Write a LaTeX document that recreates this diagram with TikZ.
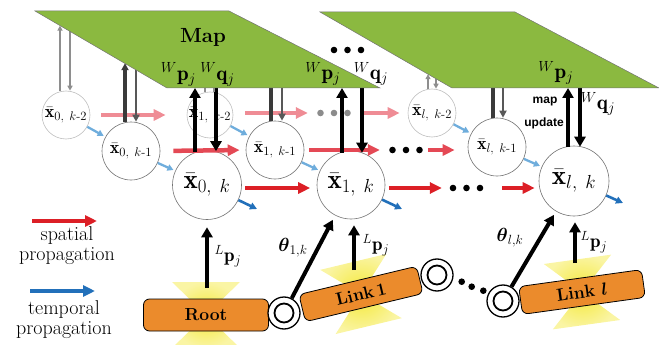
\RequirePackage{fix-cm}
\documentclass[tikz,border=0pt]{standalone}
\usepackage{amsmath}
\usepackage{fontspec}
\newfontfamily\labelsans{Liberation Sans}
\usetikzlibrary{arrows.meta}

\definecolor{mapgreen}{HTML}{8BB940}
\definecolor{redK}{HTML}{DC1F26}
\definecolor{redKa}{HTML}{E44955}
\definecolor{redKb}{HTML}{EF8C95}
\definecolor{blueD}{HTML}{2270BA}
\definecolor{blueL}{HTML}{6FADDC}
\definecolor{linkorange}{HTML}{EB8B2C}
\definecolor{glowyellow}{HTML}{F4E835}
\definecolor{darkline}{HTML}{3A3A3A}
\definecolor{lightline}{HTML}{8E8E8E}

\tikzset{
  state/.style={circle, draw=black!55, line width=0.6pt, fill=white, inner sep=0pt},
  stbig/.style={state, minimum size=#1, font=\fontsize{27}{30}\selectfont},
  stsmall/.style={state, minimum size=#1, font=\fontsize{18}{20}\selectfont},
  faint/.style={draw=black!25},
  spat/.style={draw=#1, line width=4.5pt, -{Triangle[length=12pt,width=11pt]}},
  tempL/.style={draw=blueL, line width=2.3pt, -{Triangle[length=6pt,width=6.5pt]}, shorten >=2pt},
  tempD/.style={draw=blueD, line width=2.6pt, -{Triangle[length=7pt,width=7pt]}},
  thinup/.style={draw=lightline, line width=1.4pt, -{Triangle[length=5pt,width=5pt]}},
  thinline/.style={draw=lightline, line width=1.4pt},
  midline/.style={draw=darkline, line width=3.4pt},
  midup/.style={midline, -{Triangle[length=7pt,width=7pt]}},
  middown/.style={draw=darkline!85, line width=2.4pt, -{Triangle[length=7pt,width=7pt]}},
  blkarrow/.style={draw=black, line width=4pt, -{Triangle[length=10pt,width=11pt]}},
  mapplane/.style={fill=mapgreen, draw=black!55, line width=0.5pt},
  plab/.style={inner sep=0pt, font=\fontsize{21}{24}\selectfont},
  llab/.style={inner sep=0pt, font=\fontsize{19}{22}\selectfont},
  linkbox/.style={draw=black, line width=0.8pt, fill=linkorange, rounded corners=6pt,
    inner sep=0pt, font=\fontsize{17.5}{20}\selectfont\bfseries},
  joint/.style={circle, draw=black, line width=1.3pt, fill=white, minimum size=32pt, inner sep=0pt,
    path picture={\draw[line width=1.8pt] (path picture bounding box.center) circle (9.5pt);}},
  ellip/.style={minimum width=34pt, minimum height=8pt, inner sep=0pt,
    path picture={\foreach \d in {-13.5,0,13.5}
      \fill[#1] ([xshift=\d pt]path picture bounding box.center) circle (3.3pt);}},
  ellip/.default=black,
  glow/.style={inner color=glowyellow, outer color=glowyellow!45},
  legendtxt/.style={align=center, inner sep=0pt, font=\fontsize{20}{19.5}\selectfont},
  updtxt/.style={inner sep=0pt, font={\fontsize{12}{14}\labelsans\bfseries}},
}

\begin{document}
\begin{tikzpicture}[x=1pt,y=-1pt]
\useasboundingbox (0,0) rectangle (659,345);

% corners of the two map planes
\coordinate (P1a) at (35,11);  \coordinate (P1b) at (229,11);
\coordinate (P1c) at (380,88); \coordinate (P1d) at (167,88);
\coordinate (P2a) at (320,12); \coordinate (P2b) at (515,12);
\coordinate (P2c) at (659,88); \coordinate (P2d) at (452,88);

% ---------- kinematic chain ----------
\begin{scope}[shift={(206,315)}]
  \shade[glow] (0,0) -- (-34,-33) -- (34,-33) -- cycle (0,0) -- (34,33) -- (-34,33) -- cycle;
\end{scope}
\begin{scope}[shift={(361,294)}, rotate=13.5]
  \shade[glow] (0,0) -- (-34,-33) -- (34,-33) -- cycle (0,0) -- (34,33) -- (-34,33) -- cycle;
\end{scope}
\begin{scope}[shift={(582,292)}, rotate=7.9]
  \shade[glow] (0,0) -- (-34,-33) -- (34,-33) -- cycle (0,0) -- (34,33) -- (-34,33) -- cycle;
\end{scope}

\node[linkbox, minimum width=125pt, minimum height=32pt] (root) at (206,315) {Root};
\node[linkbox, minimum width=121pt, minimum height=28pt, rotate=13.5] (link1) at (361,294) {Link\,1};
\node[linkbox, minimum width=124pt, minimum height=28pt, rotate=7.9] (linkl) at (582,292) {Link $\boldsymbol{l}$};

\node[joint] (j1) at (284,313) {};
\node[joint] (j2) at (437,275) {};
\node[joint] (j3) at (503,301) {};
\foreach \p in {(461.7,281.7),(471.7,286.7),(483.3,290.7)} \fill \p circle (3.3pt);

% ---------- state estimates ----------
\node[stsmall=48pt, faint] (a02) at (66,115)  {$\bar{\mathbf{x}}_{0,\ k\text{-}2}$};
\node[stsmall=58pt]        (a01) at (131,151) {$\bar{\mathbf{x}}_{0,\ k\text{-}1}$};
\node[stbig=69pt]          (a00) at (207,185) {$\bar{\mathbf{x}}_{0,\ k}$};
\node[stsmall=46pt, faint] (b02) at (210,115) {$\bar{\mathbf{x}}_{1,\ k\text{-}2}$};
\node[stsmall=58pt]        (b01) at (275,150) {$\bar{\mathbf{x}}_{1,\ k\text{-}1}$};
\node[stbig=68pt]          (b00) at (351,185) {$\bar{\mathbf{x}}_{1,\ k}$};
\node[stsmall=48pt, faint] (c02) at (432,113) {$\bar{\mathbf{x}}_{l,\ k\text{-}2}$};
\node[stsmall=58pt]        (c01) at (497,147) {$\bar{\mathbf{x}}_{l,\ k\text{-}1}$};
\node[stbig=70pt]          (c00) at (574,181) {$\bar{\mathbf{x}}_{l,\ k}$};

% ellipses between the link columns
\node[ellip=black!45] (dk2) at (334,113) {};
\node[ellip] (dk1) at (406,150) {};
\node[ellip] (dk0) at (466.5,188) {};

% spatial propagation
\draw[spat=redKb, shorten <=11pt, shorten >=21pt] (a02.east) -- (b02.west);
\draw[spat=redKb, shorten <=12pt, shorten >=9pt] ([yshift=2pt]b02.east) -- (dk2.west);
\draw[spat=redKb, shorten <=12pt, shorten >=8pt] (dk2.east) -- (c02.west);
\draw[spat=redKa, shorten <=13pt, shorten >=6pt] (a01.east) -- (b01.west);
\draw[spat=redKa, shorten <=5pt, shorten >=9pt] (b01.east) -- (dk1.west);
\draw[spat=redKa, shorten <=5pt, shorten >=13pt] (dk1.east) -- ([yshift=-3pt]c01.west);
\draw[spat=redK, shorten <=3.5pt, shorten >=6.5pt] ([yshift=-3pt]a00.east) -- ([yshift=-3pt]b00.west);
\draw[spat=redK, shorten <=3.5pt, shorten >=7.5pt] ([yshift=-3pt]b00.east) -- (dk0.west);
\draw[spat=redK, shorten <=18.5pt, shorten >=4pt] (dk0.east) -- ([yshift=-7pt]c00.west);

% temporal propagation
\draw[tempL] (a02) -- (a01);
\draw[tempL] (a01) -- (a00);
\draw[tempL] (b02) -- (b01);
\draw[tempL] (b01) -- (b00);
\draw[tempL] (c02) -- (c01);
\draw[tempL] (c01) -- (c00);
\coordinate (ta0) at (257,209);
\coordinate (tb0) at (402,209);
\coordinate (tc0) at (623,203);
\draw[tempD] (a00) -- (ta0);
\draw[tempD] (b00) -- (tb0);
\draw[tempD] (c00) -- (tc0);

% ---------- exchanges with the map ----------
\coordinate (m02u) at (60,25.6);  \coordinate (m02d) at (70,31.4);
\coordinate (m01u) at (125,63.2); \coordinate (m01d) at (136,69.6);
\coordinate (m00u) at (195,88);   \coordinate (m00d) at (216,88);
\coordinate (n02u) at (205,88);   \coordinate (n02d) at (214,88);
\coordinate (n01u) at (271,88);   \coordinate (n01d) at (282,88);
\coordinate (n00u) at (342,88);   \coordinate (n00d) at (362,88);
\coordinate (o02u) at (428,74.2); \coordinate (o02d) at (436,78.8);
\coordinate (o01u) at (493,88);   \coordinate (o01d) at (503,88);
\coordinate (o00u) at (568,88);   \coordinate (o00d) at (580,88);

\draw[thinup] ([xshift=-6pt]a02.north) -- (m02u);
\draw[thinup] (m02d) -- ([xshift=4pt]a02.north);
\draw[midup] ([xshift=-6pt]a01.north) -- (m01u);
\draw[middown] (m01d) -- ([xshift=5pt]a01.north);
\draw[blkarrow, shorten <=-2pt] ([xshift=-12pt]a00.north) -- (m00u);
\draw[blkarrow, shorten >=-1pt] (m00d) -- ([xshift=9pt]a00.north);

\draw[thinline] ([xshift=-5pt]b02.north) -- (n02u);
\draw[thinline] (n02d) -- ([xshift=4pt]b02.north);
\draw[midline] ([xshift=-4pt]b01.north) -- (n01u);
\draw[middown] (n01d) -- ([xshift=7pt]b01.north);
\draw[blkarrow, shorten <=-2pt] ([xshift=-9pt]b00.north) -- (n00u);
\draw[blkarrow, shorten >=-2pt] (n00d) -- ([xshift=11pt]b00.north);

\draw[thinup] ([xshift=-4pt]c02.north) -- (o02u);
\draw[thinup] (o02d) -- ([xshift=4pt]c02.north);
\draw[midline] ([xshift=-4pt]c01.north) -- (o01u);
\draw[middown] (o01d) -- ([xshift=6pt]c01.north);
\draw[blkarrow, shorten <=-1pt] ([xshift=-6pt]c00.north) -- (o00u);
\draw[blkarrow, shorten >=-1pt] (o00d) -- ([xshift=6pt]c00.north);

% map planes
\draw[mapplane] (P1a) -- (P1b) -- (P1c) -- (P1d) -- cycle;
\draw[mapplane] (P2a) -- (P2b) -- (P2c) -- (P2d) -- cycle;

\node[font=\fontsize{20.5}{24}\selectfont\bfseries] (maptitle) at (203,37) {Map};
\node[plab] (wp0) at (178.5,74.5) {${}^{W}\mathbf{p}_{j}$};
\node[plab] (wq0) at (217.5,74.5) {${}^{W}\mathbf{q}_{j}$};
\node[plab] (wp1) at (323,74) {${}^{W}\mathbf{p}_{j}$};
\node[plab] (wq1) at (371,74) {${}^{W}\mathbf{q}_{j}$};
\node[plab] (wpl) at (556,73) {${}^{W}\mathbf{p}_{j}$};
\node[plab] (wql) at (598,104) {${}^{W}\mathbf{q}_{j}$};
\node[ellip] (mapdots) at (347.5,50) {};
\node[updtxt] (updA) at (545,102) {map};
\node[updtxt] (updB) at (544,123) {update};

% ---------- link measurements ----------
\coordinate (rb) at (207,288);
\coordinate (l1b) at (354,270);
\coordinate (llb) at (575,263);
\draw[blkarrow, shorten >=7.5pt] (rb) -- (rb |- a00.south);
\draw[blkarrow, shorten >=6pt] (l1b) -- (l1b |- b00.south);
\draw[blkarrow, shorten >=6pt] (llb) -- (llb |- c00.south);
\node[llab] (lp0) at (228,256) {${}^{L}\mathbf{p}_{j}$};
\node[llab] (lp1) at (376,245) {${}^{L}\mathbf{p}_{j}$};
\node[llab] (lpl) at (594,242) {${}^{L}\mathbf{p}_{j}$};

\draw[blkarrow, shorten >=5pt] (j1) -- (b00);
\draw[blkarrow, shorten >=4pt] (j3) -- (c00);
\node[llab] (th1) at (293,248) {$\boldsymbol{\theta}_{1,k}$};
\node[llab] (thl) at (510,238) {$\boldsymbol{\theta}_{l,k}$};

% ---------- legend ----------
\coordinate (lgA1) at (32,221); \coordinate (lgA2) at (97,221);
\coordinate (lgB1) at (30,291); \coordinate (lgB2) at (95,291);
\draw[spat=redK] (lgA1) -- (lgA2);
\draw[spat=blueD] (lgB1) -- (lgB2);
\node[legendtxt] (lgtA) at (67,245.5) {spatial\\propagation};
\node[legendtxt] (lgtB) at (64,319.5) {temporal\\propagation};
\end{tikzpicture}
\end{document}
